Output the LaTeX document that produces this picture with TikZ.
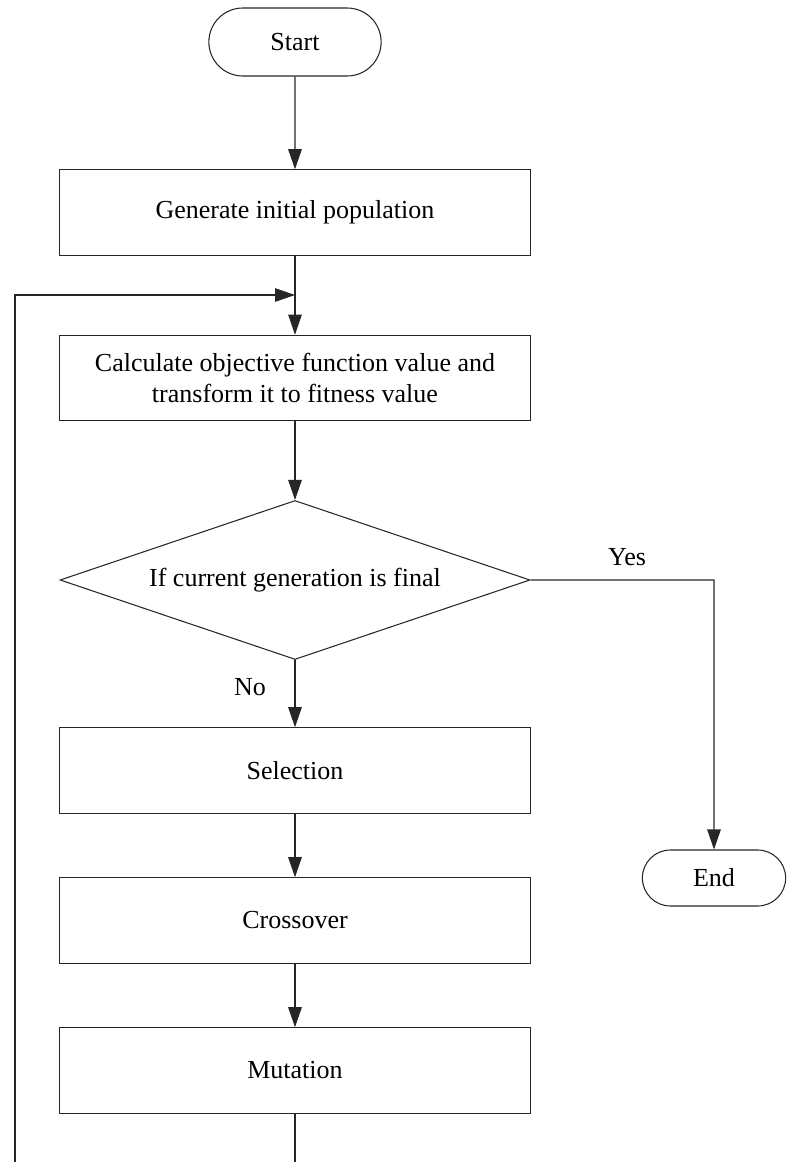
\documentclass[tikz,border=0pt]{standalone}
\usepackage{fontspec}
\setmainfont{Liberation Serif}
\usepackage{tikz}
\usetikzlibrary{shapes, arrows.meta}

\begin{document}
\begin{tikzpicture}[
    text centered,
    font=\fontsize{14.8}{17.6}\selectfont,
	terminal/.style={
	  rounded rectangle,
	  draw=black!85,
	  line width=0.6pt,
	  minimum width=3.68cm,
	  minimum height=1.36cm
	},
	block/.style={
	  rectangle,
	  draw=black!85,
	  line width=0.6pt,
	  minimum width=9.42cm,
	  minimum height=1.71cm,
	  align=center
	},
	decision/.style={
	  diamond,
	  draw=black!85,
	  line width=0.6pt,
	  aspect=2.956,
	  minimum width=9.4cm,
	  minimum height=3.18cm,
	  inner sep=0pt
	},
 	line/.style={draw=black!85, line width=0.6pt},
 	flow/.style={line, -{Triangle[length=0.4cm, width=0.27cm]}}
	]
	\useasboundingbox (0, 0) rectangle (15.9, -23.24);
	\clip (0, 0) rectangle (15.9, -23.24);
	\node [terminal] at (5.9, -0.84) (start) {Start};
	\node [block] at (5.9, -4.25) (init) {Generate initial population};
	\node [block] at (5.9, -7.56) (fitness) {Calculate objective function value and\\transform it to fitness value};
	\node [decision] at (5.9, -11.6) (final) {If current generation is final};
	\node [block] at (5.9, -15.41) (selection) {Selection};
	\node [block] at (5.9, -18.41) (crossover) {Crossover};
	\node [block] at (5.9, -21.41) (mutation) {Mutation};
	\node [terminal, minimum width=3.1cm, minimum height=1.12cm] at (14.28, -17.56) (finish) {End};
	\node at (12.54, -11.14) (yes) {Yes};
	\node at (5.0, -13.74) (no) {No};
	\coordinate (merge) at (5.9, -5.9);
	\coordinate (corner) at (final.east -| finish);
	\coordinate (bottom) at (5.9, -23.6);
	\coordinate (leftbottom) at (0.3, -23.6);
	\coordinate (lefttop) at (0.3, -5.9);
	\draw[flow] (start) -- (init);
	\draw[flow] (init) -- (fitness);
	\draw[flow] (fitness) -- (final);
	\draw[flow] (final) -- (selection);
	\draw[flow] (selection) -- (crossover);
	\draw[flow] (crossover) -- (mutation);
	\draw[flow] (final.east) -- (corner) -- (finish);
	\draw[flow] (mutation) -- (bottom) -- (leftbottom) -- (lefttop) -- (merge);
  \end{tikzpicture}
\end{document}
